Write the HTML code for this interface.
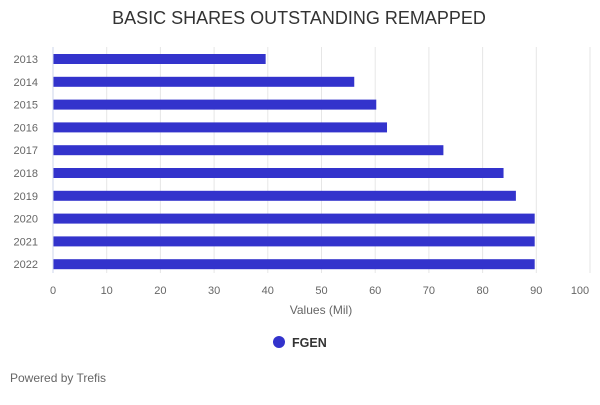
<!DOCTYPE html>
<html><head><meta charset="utf-8"><style>
body{margin:0;background:#fff;font-family:"Liberation Sans",sans-serif}
</style></head><body>
<svg width="600" height="400" xmlns="http://www.w3.org/2000/svg">
<text x="299" y="24" text-anchor="middle" font-size="18" fill="#333">BASIC SHARES OUTSTANDING REMAPPED</text>
<g id="grid"></g><g id="bars"></g><g id="labels"></g>
<line x1="53" y1="47" x2="53" y2="273" stroke="#ccd6eb"/>
<text x="321" y="314" text-anchor="middle" font-size="12" fill="#666">Values (Mil)</text>
<g><circle cx="279" cy="342" r="6" fill="#3333cc"/>
<text x="292" y="347" font-size="12.5" font-weight="bold" fill="#333">FGEN</text></g>
<text x="10" y="382" font-size="12" fill="#666">Powered by Trefis</text>
</svg>
<script>
const categories=["2013","2014","2015","2016","2017","2018","2019","2020","2021","2022"];
const values=[39.6,56.1,60.2,62.2,72.7,83.9,86.2,89.7,89.7,89.7];
const ticks=[0,10,20,30,40,50,60,70,80,90,100];
const ns="http://www.w3.org/2000/svg";
const x=v=>53+v*5.37;
const y=i=>59+i*22.8;
function mk(t,a,p){const e=document.createElementNS(ns,t);for(const k in a)e.setAttribute(k,a[k]);document.getElementById(p).appendChild(e);return e;}
ticks.forEach(t=>{
 if(t>0){const l=mk('line',{x1:x(t),y1:47,x2:x(t),y2:273,stroke:'#e6e6e6'},'grid');
 
 }
 const tx=mk('text',{x:t==100?580:x(t),y:294,'text-anchor':'middle','font-size':11,fill:'#666'},'labels');
 tx.textContent=t;
 
 
});
categories.forEach((c,i)=>{
 const r=mk('rect',{x:53,y:y(i)-5,width:x(values[i])-53,height:10,fill:'#3333cc'},'bars');
 
 
 const t=mk('text',{x:38,y:y(i)+4,'text-anchor':'end','font-size':11,fill:'#666'},'labels');
 t.textContent=c;
 
 
});
</script>
</body></html>
